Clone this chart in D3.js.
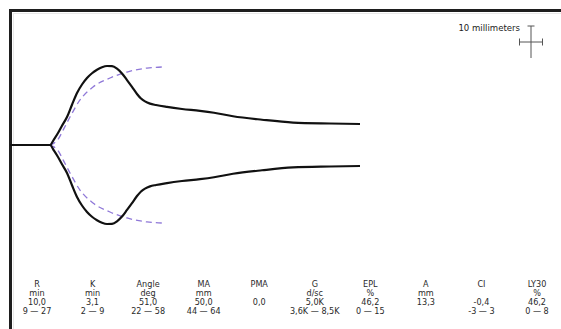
<!DOCTYPE html>
<html><head><meta charset="utf-8">
<script src="https://cdn.jsdelivr.net/npm/d3@7"></script>
<style>html,body{margin:0;padding:0;background:#fff;}svg{display:block;}</style>
</head><body>
<svg id="c" width="561" height="329"></svg>
<script>
// Tracing: time (min) and total amplitude (mm)
const traceTime = [0, 10, 11, 12, 13, 14.25, 15.5, 16.75, 18, 19.25, 20.5, 21.75, 23, 24.25, 25.5, 26.75, 28, 29.25, 30.5, 31.75, 32.75, 33.75, 35, 36.5, 39.25, 43, 47.5, 51, 55.75, 63, 70.75, 80, 87.5];
const traceAmp  = [0, 0, 3.6, 7.6, 12.2, 17.7, 25.5, 32.9, 38.3, 42.4, 45.4, 47.6, 49.2, 50.0, 49.9, 48.3, 45.3, 41.1, 36.8, 32.3, 29.4, 27.6, 26.2, 25.3, 24.1, 22.8, 21.6, 20.4, 18.2, 16.0, 14.2, 13.6, 13.3];
// Reference (normal) tracing, dashed
const refTime = [10, 11, 12, 13.5, 15, 17.5, 20.75, 25, 29.25, 34.25, 38.25];
const refAmp  = [0, 1.2, 3.6, 10.5, 17.7, 28.5, 36.7, 42.4, 46.2, 48.7, 49.4];
// Parameter table
const paramNames  = ["R", "K", "Angle", "MA", "PMA", "G", "EPL", "A", "CI", "LY30"];
const paramUnits  = ["min", "min", "deg", "mm", "", "d/sc", "%", "mm", "", "%"];
const paramValues = ["10,0", "3,1", "51,0", "50,0", "0,0", "5,0K", "46,2", "13,3", "-0,4", "46,2"];
const paramRanges = ["9 \u2014 27", "2 \u2014 9", "22 \u2014 58", "44 \u2014 64", "", "3,6K \u2014 8,5K", "0 \u2014 15", "", "-3 \u2014 3", "0 \u2014 8"];
const scaleLabel = "10 millimeters";

const svg = d3.select("#c");
const x = d3.scaleLinear().domain([0, 100]).range([10, 410]);
const y = d3.scaleLinear().domain([-30, 30]).range([145 + 94.8, 145 - 94.8]);

// frame
svg.append("line").attr("x1", 9).attr("x2", 561).attr("y1", 10.5).attr("y2", 10.5).attr("stroke", "#1e1e1e").attr("stroke-width", 3);
svg.append("line").attr("x1", 10.5).attr("x2", 10.5).attr("y1", 9).attr("y2", 329).attr("stroke", "#1e1e1e").attr("stroke-width", 3);
svg.append("line").attr("x1", 13).attr("x2", 561).attr("y1", 13.5).attr("y2", 13.5).attr("stroke", "#e8e8e8").attr("stroke-width", 1);
svg.append("line").attr("x1", 13.5).attr("x2", 13.5).attr("y1", 13).attr("y2", 329).attr("stroke", "#e8e8e8").attr("stroke-width", 1);

const upper = d3.line().x(d => x(d[0])).y(d => y(d[1] / 2)).curve(d3.curveMonotoneX);
const lower = d3.line().x(d => x(d[0])).y(d => y(-d[1] / 2)).curve(d3.curveMonotoneX);
const trace = traceTime.map((t, i) => [t, traceAmp[i]]);
const ref = refTime.map((t, i) => [t, refAmp[i]]);

[upper, lower].forEach(g => {
  svg.append("path").attr("d", g(ref)).attr("fill", "none")
    .attr("stroke", "#8f78d8").attr("stroke-width", 1.3).attr("stroke-dasharray", "6,4");
});
[upper, lower].forEach(g => {
  svg.append("path").attr("d", g(trace)).attr("fill", "none")
    .attr("stroke", "#111").attr("stroke-width", 2.2).attr("stroke-linejoin", "round");
});

// scale cross
const cx = 531, cy = 42, gcol = "#555";
const cr = svg.append("g").attr("stroke", gcol).attr("stroke-width", 1);
cr.append("line").attr("x1", cx).attr("x2", cx).attr("y1", cy - 16).attr("y2", cy + 16);
cr.append("line").attr("x1", cx - 3.5).attr("x2", cx + 3.5).attr("y1", cy - 16).attr("y2", cy - 16);
cr.append("line").attr("x1", cx - 11.5).attr("x2", cx + 11.5).attr("y1", cy).attr("y2", cy);
cr.append("line").attr("x1", cx - 11.5).attr("x2", cx - 11.5).attr("y1", cy - 3.5).attr("y2", cy + 3.5);
cr.append("line").attr("x1", cx + 11.5).attr("x2", cx + 11.5).attr("y1", cy - 3.5).attr("y2", cy + 3.5);
svg.append("text").attr("x", 520).attr("y", 31).attr("text-anchor", "end")
  .attr("font-family", "DejaVu Sans Condensed, DejaVu Sans").attr("font-size", 9.5).attr("fill", "#222").text(scaleLabel);

// parameter table
const colX = d3.scalePoint().domain(paramNames).range([37, 537]);
const rows = [paramNames, paramUnits, paramValues, paramRanges];
const rowY = [286.5, 295.5, 304.5, 313.5];
rows.forEach((row, r) => {
  svg.append("g").selectAll("text").data(row).join("text")
    .attr("x", (d, i) => colX(paramNames[i])).attr("y", rowY[r])
    .attr("text-anchor", "middle")
    .attr("font-family", "DejaVu Sans Condensed, DejaVu Sans").attr("font-size", 9)
    .attr("fill", "#2a2a2a").text(d => d);
});
</script>
</body></html>
